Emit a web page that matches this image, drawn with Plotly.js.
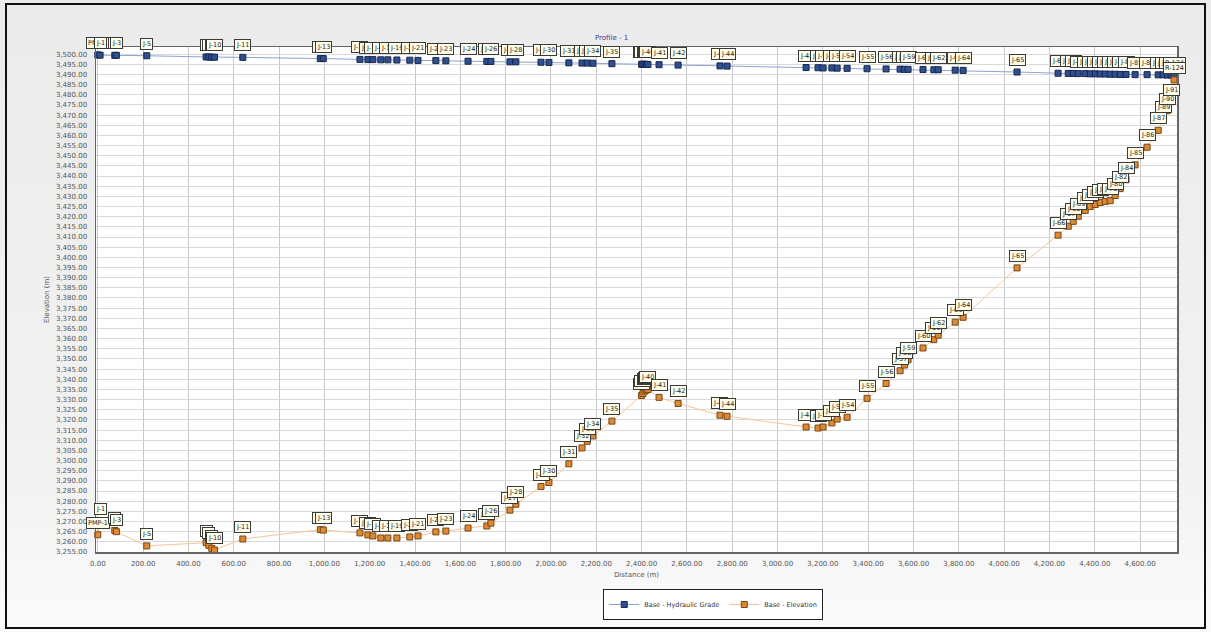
<!DOCTYPE html>
<html>
<head>
<meta charset="utf-8">
<script src="https://cdn.plot.ly/plotly-3.0.1.min.js"></script>
<style>
  html, body { margin: 0; padding: 0; background: #ffffff; }
  #wrap { position: relative; width: 1211px; height: 632px; overflow: hidden; }
  #chart { position: absolute; left: 0; top: 0; width: 1211px; height: 632px;
           background: linear-gradient(#ebebeb, #f2f2f2 75%, #fbfbfb); }
  #frame { position: absolute; left: 5px; top: 3px; width: 1197px; height: 622px;
           border: 2px solid #111; pointer-events: none; }
</style>
</head>
<body>
<div id="wrap"><div id="chart"></div><div id="frame"></div></div>
<script>
// Node labels along the profile
const nodeLabels = [
  'PMP-1','J-1','J-2','J-3','J-5','J-7','J-8','J-9','J-10','J-11',
  'J-12','J-13','J-14','J-15','J-16','J-17','J-18','J-19','J-20','J-21',
  'J-22','J-23','J-24','J-25','J-26','J-27','J-28','J-29','J-30','J-31',
  'J-32','J-33','J-34','J-35','J-36','J-37','J-38','J-39','J-40','J-41',
  'J-42','J-43','J-44','J-48','J-49','J-50','J-52','J-53','J-54','J-55',
  'J-56','J-57','J-58','J-59','J-60','J-61','J-62','J-63','J-64','J-65',
  'J-66','J-67','J-68','J-69','J-70','J-71','J-72','J-74','J-76','J-78',
  'J-80','J-82','J-84','J-85','J-86','J-87','J-89','J-90','J-91','R-124'
];

// Distance along the profile (m)
const distance = [
  0, 10, 75, 82, 216, 478, 490, 503, 515, 640,
  982, 995, 1157, 1192, 1214, 1249, 1280, 1320, 1377, 1413,
  1492, 1536, 1634, 1717, 1735, 1819, 1845, 1956, 1991, 2079,
  2137, 2160, 2185, 2269, 2400, 2406, 2415, 2422, 2428, 2477,
  2561, 2746, 2777, 3126, 3179, 3201, 3240, 3263, 3307, 3395,
  3479, 3541, 3560, 3576, 3642, 3690, 3709, 3784, 3819, 4057,
  4238, 4283, 4305, 4327, 4358, 4380, 4402, 4424, 4446, 4468,
  4490, 4512, 4538, 4578, 4631, 4680, 4702, 4720, 4737, 4750
];

// Ground elevation (m)
const elevation = [
  3263.5, 3270.5, 3265.6, 3265.0, 3258.0, 3259.6, 3258.3, 3256.8, 3256.0, 3261.4,
  3266.0, 3265.8, 3264.4, 3263.4, 3262.9, 3261.9, 3261.9, 3261.9, 3262.4, 3262.9,
  3264.9, 3265.3, 3266.8, 3267.8, 3269.2, 3275.6, 3278.5, 3287.2, 3289.2, 3298.4,
  3306.2, 3309.5, 3312.1, 3319.4, 3332.0, 3333.0, 3334.2, 3334.8, 3335.0, 3331.1,
  3328.1, 3322.3, 3321.8, 3316.5, 3316.0, 3316.5, 3318.5, 3320.4, 3321.3, 3330.6,
  3337.9, 3344.2, 3347.0, 3349.6, 3355.4, 3359.5, 3361.7, 3368.1, 3370.5, 3394.8,
  3410.9, 3415.3, 3417.7, 3420.2, 3423.1, 3425.0, 3426.0, 3427.0, 3427.5, 3427.9,
  3430.4, 3433.8, 3438.2, 3445.5, 3454.2, 3462.5, 3467.9, 3472.2, 3476.6, 3487.3
];

// Hydraulic grade (m)
const hydraulicGrade = [
  3499.6, 3499.5, 3499.4, 3499.4, 3499.2, 3498.6, 3498.6, 3498.5, 3498.5, 3498.4,
  3497.8, 3497.8, 3497.4, 3497.3, 3497.3, 3497.2, 3497.2, 3497.1, 3497.0, 3496.9,
  3496.8, 3496.7, 3496.5, 3496.4, 3496.4, 3496.2, 3496.2, 3496.0, 3495.9, 3495.7,
  3495.6, 3495.6, 3495.5, 3495.3, 3495.0, 3495.0, 3495.0, 3494.9, 3494.9, 3494.8,
  3494.6, 3494.2, 3494.1, 3493.4, 3493.3, 3493.2, 3493.2, 3493.1, 3493.0, 3492.8,
  3492.7, 3492.6, 3492.5, 3492.5, 3492.4, 3492.3, 3492.3, 3492.1, 3492.0, 3491.2,
  3490.6, 3490.5, 3490.5, 3490.4, 3490.4, 3490.3, 3490.3, 3490.2, 3490.2, 3490.1,
  3490.1, 3490.0, 3490.0, 3489.9, 3489.9, 3489.8, 3489.8, 3489.7, 3489.7, 3489.6
];

const seriesNames = ['Base - Hydraulic Grade', 'Base - Elevation'];

const FONT = 'DejaVu Sans, Verdana, sans-serif';

const hglTrace = {
  x: distance, y: hydraulicGrade, name: seriesNames[0],
  type: 'scatter', mode: 'lines+markers', cliponaxis: false,
  line: { color: '#8ea3cf', width: 1 },
  marker: { symbol: 'square', size: 6, color: '#2f4f8f', line: { color: '#16264d', width: 1 } }
};
const elevTrace = {
  x: distance, y: elevation, name: seriesNames[1],
  type: 'scatter', mode: 'lines+markers', cliponaxis: false,
  line: { color: '#f5c597', width: 1 },
  marker: { symbol: 'square', size: 6, color: '#dc8a35', line: { color: '#7a4612', width: 1 } }
};

// Node label boxes above each marker
function labelBox(x, y, text) {
  return {
    x: x, y: y, xref: 'x', yref: 'y', text: text, showarrow: false,
    yshift: 12, font: { family: FONT, size: 6.5, color: '#222' },
    bgcolor: '#fdfdea', bordercolor: '#3a3a3a', borderwidth: 1, borderpad: 1
  };
}
const annotations = [];
for (let i = 0; i < nodeLabels.length; i++) {
  annotations.push(labelBox(distance[i], hydraulicGrade[i], nodeLabels[i]));
}
for (let i = 0; i < nodeLabels.length; i++) {
  annotations.push(labelBox(distance[i], elevation[i], nodeLabels[i]));
}

const layout = {
  width: 1211, height: 632,
  margin: { l: 96, r: 34, t: 47, b: 75 },
  paper_bgcolor: 'rgba(0,0,0,0)',
  plot_bgcolor: '#ffffff',
  font: { family: FONT, size: 7, color: '#444' },
  title: { text: 'Profile - 1', x: 0.505, xanchor: 'center', y: 0.94, yanchor: 'middle',
           font: { family: FONT, size: 7, color: '#3a3aa0' } },
  showlegend: true,
  legend: {
    orientation: 'h', x: 0.571, xanchor: 'center', y: -0.104, yanchor: 'middle',
    bgcolor: '#ffffff', bordercolor: '#222', borderwidth: 1,
    font: { family: FONT, size: 6.5, color: '#333' }, itemwidth: 30, tracegroupgap: 0,
    entrywidth: 0
  },
  xaxis: {
    range: [-8, 4763], tick0: 0, dtick: 200, tickformat: ',.2f',
    showgrid: true, gridcolor: '#c9c9c9', gridwidth: 1, zeroline: false,
    showline: true, linecolor: '#666', linewidth: 1.5, mirror: true,
    ticks: '', ticklabelstandoff: 4,
    tickfont: { family: FONT, size: 7, color: '#555' },
    title: { text: 'Distance (m)', standoff: 5, font: { family: FONT, size: 7, color: '#555' } }
  },
  yaxis: {
    range: [3255, 3503.5], tick0: 3255, dtick: 5, tickformat: ',.2f',
    showgrid: true, gridcolor: '#dadada', gridwidth: 1, zeroline: false,
    showline: true, linecolor: '#666', linewidth: 1.5, mirror: true,
    ticks: '', ticklabelstandoff: 6,
    tickfont: { family: FONT, size: 7, color: '#555' },
    title: { text: 'Elevation (m)', standoff: 5, font: { family: FONT, size: 7, color: '#555' } }
  },
  annotations: annotations
};

Plotly.newPlot('chart', [hglTrace, elevTrace], layout, { displayModeBar: false, staticPlot: true });
</script>
</body>
</html>
